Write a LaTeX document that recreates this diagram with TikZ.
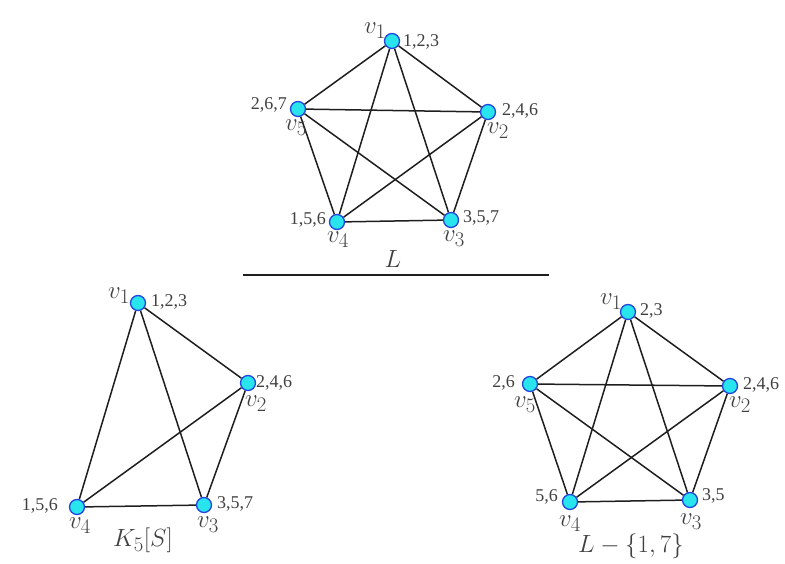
\documentclass[tikz,border=0pt]{standalone}
\usepackage{fontspec}
\setmainfont{Liberation Serif}
\usetikzlibrary{calc}
\definecolor{vfill}{RGB}{40,228,236}
\definecolor{vrim}{RGB}{35,70,225}
\definecolor{ink}{RGB}{30,30,30}
\tikzset{
	vtx/.style={circle,fill=vfill,draw=vrim,line width=1.3pt,inner sep=0pt,minimum size=15pt},
	edge/.style={ink,line width=1.5pt},
	num/.style={inner sep=0pt,font=\fontsize{18}{20}\selectfont,text=ink!85},
	vlab/.style={inner sep=0pt,font=\fontsize{28}{30}\selectfont,text=ink!85}
}
\begin{document}
\begin{tikzpicture}[x=1pt,y=-1pt]
			\useasboundingbox (0,0) rectangle (785,563);
			% graph L
			\node[vtx] (a1) at (392,41) {};
			\node[vtx] (a2) at (488,112) {};
			\node[vtx] (a3) at (451,220) {};
			\node[vtx] (a4) at (337,222) {};
			\node[vtx] (a5) at (298,109) {};
			\foreach \p/\q in {a1/a2,a1/a3,a1/a4,a1/a5,a2/a3,a2/a4,a2/a5,a3/a4,a3/a5,a4/a5}
				\draw[edge] (\p) -- (\q);
			\node[num,anchor=west] (a1n) at (403,42) {1,2,3};
			\node[num,anchor=west] (a2n) at (502,111) {2,4,6};
			\node[num,anchor=west] (a3n) at (463,218) {3,5,7};
			\node[num,anchor=east] (a4n) at (326,220) {1,5,6};
			\node[num,anchor=east] (a5n) at (287,105) {2,6,7};
			\node[vlab] (a1v) at (375,31) {$v_1$};
			\node[vlab] (a2v) at (498,131) {$v_2$};
			\node[vlab] (a3v) at (454,239) {$v_3$};
			\node[vlab] (a4v) at (338,240) {$v_4$};
			\node[vlab] (a5v) at (296,128) {$v_5$};
			\node[vlab] (lL) at (393,259) {$L$};
			\coordinate (s1) at (243,275);
			\coordinate (s2) at (549,275);
			\draw[ink,line width=1.1pt] (s1) -- (s2);
			% graph K_5[S]
			\node[vtx] (b1) at (138,303) {};
			\node[vtx] (b2) at (248,383) {};
			\node[vtx] (b3) at (204,505) {};
			\node[vtx] (b4) at (77,507) {};
			\foreach \p/\q in {b1/b2,b1/b3,b1/b4,b2/b3,b2/b4,b3/b4}
				\draw[edge] (\p) -- (\q);
			\node[num,anchor=west] (b1n) at (151,302) {1,2,3};
			\node[num,anchor=west] (b2n) at (256,383) {2,4,6};
			\node[num,anchor=west] (b3n) at (217,504) {3,5,7};
			\node[num,anchor=east] (b4n) at (58,506) {1,5,6};
			\node[vlab] (b1v) at (119,296) {$v_1$};
			\node[vlab] (b2v) at (256,404) {$v_2$};
			\node[vlab] (b3v) at (208,525) {$v_3$};
			\node[vlab] (b4v) at (80,526) {$v_4$};
			\node[vlab] (lK) at (143,540) {$K_5[S]$};
			% graph L - {1,7}
			\node[vtx] (c1) at (628,312) {};
			\node[vtx] (c2) at (730,386) {};
			\node[vtx] (c3) at (690,500) {};
			\node[vtx] (c4) at (570,502) {};
			\node[vtx] (c5) at (530,384) {};
			\foreach \p/\q in {c1/c2,c1/c3,c1/c4,c1/c5,c2/c3,c2/c4,c2/c5,c3/c4,c3/c5,c4/c5}
				\draw[edge] (\p) -- (\q);
			\node[num,anchor=west] (c1n) at (640,311) {2,3};
			\node[num,anchor=west] (c2n) at (743,385) {2,4,6};
			\node[num,anchor=west] (c3n) at (702,496) {3,5};
			\node[num,anchor=east] (c4n) at (558,497) {5,6};
			\node[num,anchor=east] (c5n) at (515,383) {2,6};
			\node[vlab] (c1v) at (611,302) {$v_1$};
			\node[vlab] (c2v) at (740,405) {$v_2$};
			\node[vlab] (c3v) at (691,522) {$v_3$};
			\node[vlab] (c4v) at (570,524) {$v_4$};
			\node[vlab] (c5v) at (525,405) {$v_5$};
			\node[vlab,anchor=west,font=\fontsize{26}{28}\selectfont] (lM) at (578,546) {$L-\{1,7\}$};
		\end{tikzpicture}
\end{document}
